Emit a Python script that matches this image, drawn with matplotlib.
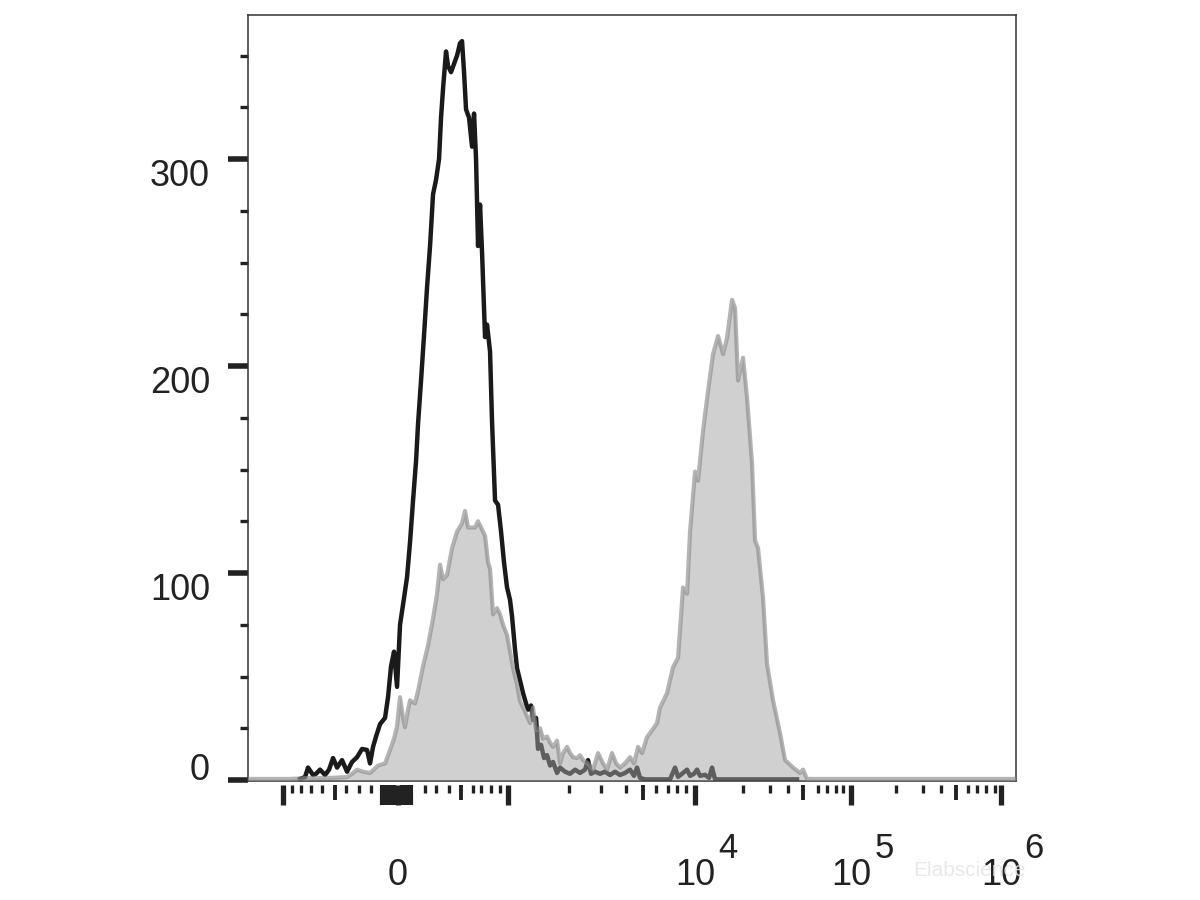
import numpy as np
import matplotlib
matplotlib.use('Agg')
import matplotlib.pyplot as plt
from matplotlib.transforms import blended_transform_factory

plt.rcParams['font.family'] = ['Liberation Sans', 'DejaVu Sans']

# display channel on the biexponential axis (0..768) and event count
black_ch = [52, 57, 60, 65, 68, 72, 77, 81, 85, 89, 94, 99, 104, 109, 114, 119, 122, 125, 128, 132,
            137, 140, 143, 146, 149, 152, 156, 159, 162, 165, 168, 170, 173, 176, 179, 182, 185, 188,
            191, 193, 195, 198, 200, 203, 206, 209, 212, 214, 216, 218, 221, 224, 226, 228, 230, 232,
            234, 237, 239, 242, 244, 247, 250, 253, 256, 259, 262, 264, 267, 269, 272, 275, 278, 280,
            283, 285, 288, 290, 293, 296, 299, 302, 305, 309, 312, 317, 322, 327, 332, 337, 340, 343,
            347, 352, 357, 362, 367, 372, 377, 382, 386, 389, 392, 397, 422, 427, 430, 434, 439, 442,
            446, 449, 452, 457, 461, 464, 467, 549]
black_cnt = [0.5, 1.4, 6, 2.4, 3, 5, 2.4, 5, 10.6, 6, 9.6, 4, 8.7, 11, 15, 14.5, 8, 16, 21, 27,
             30, 40, 55, 62, 45, 75, 88, 98, 115, 135, 154, 172, 193, 215, 238, 258, 283, 290,
             300, 320, 334, 352, 345, 342, 346, 350, 356, 357, 342, 324, 320, 306, 322, 300, 258, 278,
             255, 214, 220, 207, 173, 135, 133, 120, 105, 93, 87, 79, 63, 54, 48, 42, 37, 34,
             36, 29, 30, 15, 17, 10.6, 12, 7, 8.7, 3.4, 6, 4, 3, 5, 3.4, 5, 9.6, 3,
             4, 3, 4, 2.4, 4, 2.4, 3.4, 5, 2, 6, 1, 0.3, 0.3, 6, 1.5, 3, 5, 2,
             3, 5, 2, 2.5, 1, 6, 0.3, 0.3]

gray_ch = [0, 42, 62, 82, 99, 104, 109, 115, 122, 130, 137, 142, 146, 149, 152, 155, 157, 160, 162,
           167, 170, 175, 180, 185, 189, 192, 195, 199, 204, 209, 214, 217, 220, 224, 227, 230, 232,
           237, 240, 242, 245, 249, 252, 255, 259, 262, 265, 269, 272, 277, 282, 285, 288, 292, 295,
           299, 302, 305, 309, 312, 315, 319, 322, 325, 329, 332, 335, 340, 345, 350, 355, 359, 364,
           368, 372, 377, 382, 386, 390, 394, 399, 404, 409, 412, 419, 425, 430, 435, 439, 442, 447,
           450, 455, 460, 465, 470, 475, 479, 484, 487, 490, 495, 499, 504, 507, 510, 515, 519, 525,
           532, 537, 545, 552, 555, 559, 768]
gray_cnt = [0.5, 0.5, 1, 1, 1.4, 3, 5, 4, 3.4, 7, 8, 14.5, 20, 26, 40, 30, 25.5, 34, 38.5,
            37, 43, 55, 65, 78, 90, 104, 97, 99, 112, 120, 124, 130, 122, 122, 122, 125, 123,
            118, 105, 102, 80, 83, 80, 75, 70, 62, 54, 46, 38, 33, 27.5, 35, 24, 25, 20,
            21, 18, 16, 19, 8, 13, 16, 13, 11, 10.6, 12, 9.6, 8, 5, 13, 8, 5, 13,
            8, 6, 8, 11, 8, 16, 13, 20.7, 24, 27.5, 35, 42, 54.5, 59, 93, 90, 120, 149,
            144.6, 168.7, 188, 205.8, 214.5, 205.8, 213.5, 232, 228, 193, 204, 184.6, 152.8, 115.7, 112, 88, 56, 38.5,
            22.6, 9.6, 6, 3.4, 5, 0.5, 0.5]

# axis ticks (channel units)
x_major = [35, 150, 260, 447, 603, 753]
x_major_labels = ['', '0', '', '10', '10', '10']
x_exponents = ['', '', '', '4', '5', '6']
x_mid = [87, 213, 395, 555, 708]
x_minor = [44, 53, 63, 74, 98, 111, 123, 177, 188, 201, 225, 233, 243, 252,
           321, 353, 378, 408, 420, 429, 438, 495, 522, 540, 570, 579, 588, 595,
           648, 675, 693, 720, 729, 738, 747]
x_zero_block = [134, 137, 140, 143, 146, 154, 157, 160, 163]
y_major = [0, 100, 200, 300]
y_minor = [25, 50, 75, 125, 150, 175, 225, 250, 275, 325, 350]

ink = '#222222'

fig = plt.figure(figsize=(12, 9), dpi=100)
ax = fig.add_axes([0.2067, 0.1322, 0.64, 0.8511])

ax.plot(black_ch, black_cnt, color='#1a1a1a', lw=3.2, zorder=2)
ax.fill_between(gray_ch, gray_cnt, 0, color='#a3a3a3', alpha=0.5, lw=0, zorder=3)
ax.plot(gray_ch, gray_cnt, color='#8c8c8c', alpha=0.65, lw=3.0, zorder=4)

ax.set_xlim(0, 768)
ax.set_ylim(-0.5, 369.6)
for s in ax.spines.values():
    s.set_linewidth(1.1)
    s.set_color('#333333')

ax.set_yticks(y_major)
ax.set_yticks(y_minor, minor=True)
ax.tick_params(axis='y', which='major', direction='out', length=14.4, width=4.0,
               color=ink, labelsize=26, labelcolor=ink, pad=13)
ax.tick_params(axis='y', which='minor', direction='out', length=5.8, width=2.4, color=ink)
# FlowJo style: labels hang below their tick, the zero label sits on it
for lab, v in zip(ax.get_yticklabels(), y_major):
    lab.set_va('baseline' if v == 0 else 'top')
ax.set_xticks([])


def tick_row(ticks, length, width, labels=None):
    sec = ax.secondary_xaxis(-0.005)
    for s in sec.spines.values():
        s.set_visible(False)
    if labels is None:
        sec.set_xticks(ticks)
        sec.tick_params(labelbottom=False)
    else:
        sec.set_xticks(ticks, labels)
    sec.tick_params(direction='out', length=length, width=width, color=ink,
                    labelsize=26, labelcolor=ink, pad=38)
    return sec


tick_row(x_minor, 5.8, 2.4)
tick_row(x_mid, 10.8, 2.8)
tick_row(x_zero_block, 14.4, 3.0)
tick_row(x_major, 14.4, 3.8, x_major_labels)

trans = blended_transform_factory(ax.transData, ax.transAxes)
for pos, e in zip(x_major, x_exponents):
    if e:
        ax.annotate(e, xy=(pos, 0), xycoords=trans, xytext=(16.6, -55.4),
                    textcoords='offset points', fontsize=25, color=ink,
                    ha='left', va='baseline', annotation_clip=False)

fig.text(0.761, 0.027, 'Elabscience', fontsize=15, color='#e6e6e6',
         alpha=0.9, zorder=10)

fig.savefig('out.png', dpi=100, facecolor='white')
